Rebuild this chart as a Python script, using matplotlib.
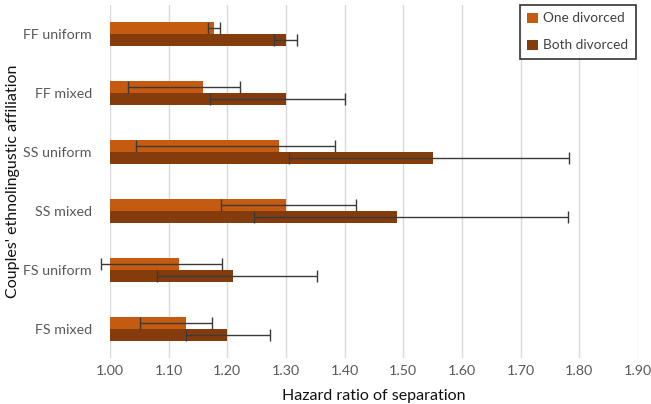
import matplotlib.pyplot as plt
import numpy as np

plt.rcParams['font.family'] = ['Lato', 'DejaVu Sans']

categories = ["FF uniform", "FF mixed", "SS uniform", "SS mixed", "FS uniform", "FS mixed"]
one_hr = [1.177, 1.158, 1.288, 1.300, 1.118, 1.129]
one_lo = [1.167, 1.030, 1.044, 1.189, 0.985, 1.051]
one_hi = [1.188, 1.222, 1.384, 1.419, 1.191, 1.174]
both_hr = [1.300, 1.300, 1.550, 1.490, 1.209, 1.200]
both_lo = [1.280, 1.170, 1.305, 1.245, 1.080, 1.129]
both_hi = [1.318, 1.400, 1.782, 1.780, 1.352, 1.272]
xticks = [1.0, 1.1, 1.2, 1.3, 1.4, 1.5, 1.6, 1.7, 1.8, 1.9]

fig = plt.figure(figsize=(6.51, 4.04), dpi=100)
ax = fig.add_axes([110/651, 1 - 358/404, (638-110)/651, (358-5)/404])

y = np.arange(len(categories))
h = 0.205
one = np.array(one_hr)
both = np.array(both_hr)

ax.barh(y - h/2, one - 1, left=1, height=h, color='#C55A11', label='One divorced', zorder=2)
ax.barh(y + h/2, both - 1, left=1, height=h, color='#843C0C', label='Both divorced', zorder=2)

ekw = dict(fmt='none', ecolor='#3a3a3a', elinewidth=1, capsize=4, capthick=1, zorder=3)
e1 = ax.errorbar(one, y - h/2, xerr=[one - np.array(one_lo), np.array(one_hi) - one], **ekw)
e2 = ax.errorbar(both, y + h/2, xerr=[both - np.array(both_lo), np.array(both_hi) - both], **ekw)
for e in (e1, e2):
    for art in e.lines[1] + e.lines[2]:
        art.set_clip_on(False)

ax.set_xlim(1.0, 1.9)
ax.set_ylim(len(categories) - 0.5, -0.5)
ax.set_xticks(xticks)
ax.set_xticklabels([f"{t:.2f}" for t in xticks])
ax.set_yticks(y)
ax.set_yticklabels(categories)
ax.tick_params(length=0, labelsize=10.3, labelcolor='#595959')
ax.tick_params(axis='x', pad=5)
ax.tick_params(axis='y', pad=13)
ax.grid(axis='x', color='#D9D9D9', linewidth=1, zorder=0)
ax.set_axisbelow(True)
for s in ax.spines.values():
    s.set_visible(False)

ax.set_xlabel("Hazard ratio of separation", fontsize=11.5, color='#111111')
ax.xaxis.set_label_coords(0.5, -31/353)
ax.set_ylabel("Couples' ethnolingustic affiliation", fontsize=11.5, color='#111111')
ax.yaxis.set_label_coords(-90/528, 0.5)

leg = ax.legend(loc='upper right', bbox_to_anchor=(526/528, 1.0), borderaxespad=0,
                fontsize=9.8, frameon=True, fancybox=False, edgecolor='black',
                handlelength=0.8, handleheight=0.8, labelspacing=1.1, borderpad=0.55,
                handletextpad=0.4, labelcolor='#404040')
leg.get_frame().set_linewidth(1.2)

fig.savefig('out.png', dpi=100)
